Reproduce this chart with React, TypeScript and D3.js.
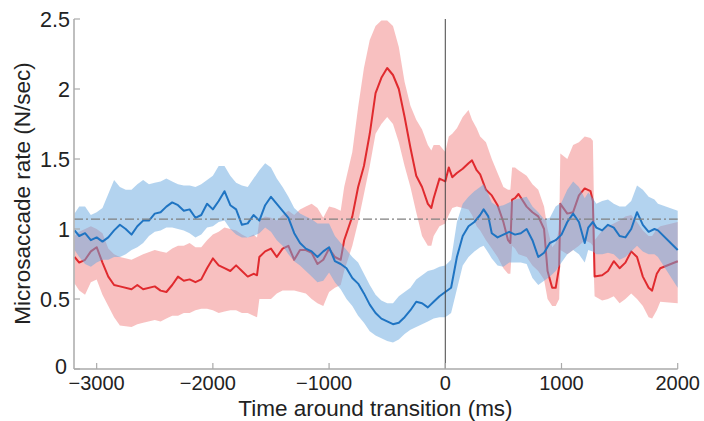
import React from "react";
import * as d3 from "d3";

// ---------- data ----------
const redTime = [-3190,-3150,-3100,-3050,-3000,-2950,-2900,-2850,-2800,-2700,-2650,-2600,-2500,-2450,-2400,-2350,-2300,-2250,-2200,-2150,-2100,-2050,-2000,-1950,-1900,-1850,-1800,-1750,-1700,-1650,-1620,-1600,-1550,-1500,-1450,-1400,-1350,-1300,-1250,-1200,-1150,-1100,-1050,-1000,-950,-900,-870,-800,-750,-700,-650,-600,-550,-500,-450,-400,-350,-300,-250,-200,-150,-120,-100,-50,0,30,60,100,150,200,230,270,300,350,400,450,500,540,560,575,600,630,700,750,800,850,880,920,950,980,990,1050,1100,1150,1200,1250,1270,1285,1350,1400,1450,1500,1550,1600,1650,1700,1750,1780,1820,1850,2000];
const redMean = [0.80,0.76,0.78,0.84,0.87,0.76,0.66,0.60,0.59,0.57,0.60,0.57,0.59,0.56,0.55,0.60,0.66,0.63,0.64,0.62,0.64,0.72,0.79,0.74,0.72,0.70,0.74,0.70,0.66,0.68,0.67,0.80,0.84,0.86,0.80,0.86,0.88,0.78,0.85,0.85,0.83,0.75,0.78,0.86,0.80,0.78,0.92,1.09,1.30,1.45,1.68,1.97,2.08,2.15,2.10,2.00,1.80,1.58,1.38,1.30,1.18,1.15,1.22,1.36,1.34,1.44,1.37,1.40,1.43,1.47,1.49,1.42,1.39,1.28,1.24,1.17,1.05,0.92,0.90,1.21,1.22,1.25,1.16,1.12,1.09,1.00,0.70,0.58,0.58,0.73,1.18,1.11,1.12,1.24,1.29,1.27,1.20,0.66,0.67,0.70,0.77,0.72,0.76,0.84,0.80,0.66,0.58,0.56,0.68,0.72,0.77];
const redHigh = [0.95,0.98,1.00,1.02,1.00,0.97,0.86,0.82,0.80,0.78,0.80,0.82,0.85,0.84,0.83,0.86,0.88,0.88,0.90,0.87,0.87,0.92,0.96,0.98,1.01,1.00,0.99,0.96,0.94,0.96,0.94,1.06,1.09,1.08,1.06,1.10,1.13,1.10,1.14,1.16,1.18,1.15,1.08,1.16,1.15,1.13,1.30,1.55,1.87,2.15,2.35,2.45,2.49,2.49,2.45,2.30,2.05,1.88,1.78,1.71,1.60,1.56,1.60,1.60,1.55,1.66,1.68,1.72,1.80,1.85,1.78,1.72,1.66,1.62,1.50,1.40,1.30,1.28,1.28,1.44,1.44,1.42,1.38,1.32,1.28,1.16,1.00,0.87,0.90,1.00,1.54,1.50,1.60,1.62,1.66,1.65,1.63,0.92,0.99,1.02,1.04,1.06,1.09,1.10,1.05,0.99,0.95,0.95,1.00,1.02,1.05];
const redLow = [0.61,0.56,0.53,0.62,0.64,0.53,0.45,0.37,0.31,0.30,0.32,0.33,0.35,0.34,0.36,0.38,0.38,0.40,0.40,0.42,0.43,0.43,0.42,0.40,0.41,0.42,0.42,0.40,0.40,0.38,0.37,0.50,0.50,0.50,0.54,0.56,0.56,0.56,0.55,0.54,0.50,0.47,0.45,0.55,0.58,0.60,0.70,0.88,1.05,1.25,1.45,1.68,1.75,1.80,1.75,1.62,1.45,1.30,1.12,0.95,0.88,0.88,0.95,1.02,1.04,1.10,1.15,1.16,1.15,1.14,1.10,1.02,0.99,0.92,0.86,0.80,0.72,0.68,0.68,0.88,0.86,0.82,0.80,0.74,0.70,0.64,0.50,0.45,0.45,0.50,0.85,0.82,0.85,0.88,0.92,0.90,0.88,0.52,0.49,0.50,0.52,0.47,0.50,0.54,0.50,0.45,0.37,0.36,0.42,0.48,0.47];

const blueTime = [-3190,-3150,-3100,-3050,-3000,-2950,-2900,-2850,-2800,-2750,-2700,-2650,-2600,-2550,-2500,-2450,-2400,-2350,-2300,-2250,-2200,-2150,-2100,-2050,-2000,-1950,-1900,-1850,-1800,-1750,-1700,-1650,-1600,-1550,-1500,-1450,-1400,-1350,-1300,-1250,-1200,-1150,-1100,-1050,-1000,-950,-900,-850,-800,-750,-700,-650,-600,-550,-500,-450,-400,-350,-300,-250,-200,-150,-100,-50,0,50,100,150,200,250,300,330,370,400,450,500,550,600,650,700,750,800,850,900,950,1000,1050,1100,1150,1200,1230,1270,1300,1350,1400,1450,1500,1550,1600,1650,1700,1750,1800,1830,2000];
const blueMean = [0.99,0.95,0.97,0.92,0.94,0.91,0.94,0.99,1.03,1.00,0.96,1.02,1.06,1.06,1.11,1.12,1.16,1.19,1.17,1.13,1.14,1.08,1.10,1.18,1.14,1.20,1.27,1.17,1.14,1.03,1.04,1.10,1.06,1.17,1.23,1.18,1.13,1.08,0.97,0.90,0.86,0.84,0.80,0.84,0.87,0.77,0.75,0.72,0.65,0.61,0.54,0.46,0.40,0.36,0.34,0.32,0.33,0.37,0.42,0.48,0.47,0.44,0.48,0.52,0.55,0.58,0.80,0.95,1.02,1.05,1.10,1.14,1.09,0.97,0.94,0.96,0.98,0.96,0.97,1.00,0.92,0.80,0.83,0.90,0.92,0.96,1.05,1.11,1.05,0.90,1.01,1.05,1.01,0.99,1.03,1.01,0.95,0.94,1.00,1.12,1.03,0.98,1.00,0.99,0.85];
const blueHigh = [1.11,1.16,1.16,1.10,1.12,1.15,1.25,1.35,1.30,1.28,1.28,1.32,1.35,1.32,1.33,1.34,1.36,1.34,1.32,1.31,1.31,1.30,1.32,1.35,1.38,1.45,1.45,1.38,1.33,1.31,1.30,1.36,1.42,1.47,1.44,1.36,1.30,1.23,1.15,1.11,1.09,1.07,1.04,1.04,1.04,0.95,0.90,0.85,0.80,0.76,0.68,0.60,0.53,0.49,0.47,0.47,0.52,0.55,0.58,0.64,0.67,0.70,0.71,0.73,0.74,0.78,1.05,1.18,1.23,1.27,1.30,1.32,1.25,1.19,1.16,1.17,1.19,1.21,1.22,1.23,1.16,1.12,1.07,1.08,1.16,1.19,1.28,1.34,1.30,1.22,1.26,1.22,1.18,1.20,1.21,1.18,1.16,1.16,1.20,1.31,1.28,1.23,1.21,1.18,1.13];
const blueLow = [0.85,0.80,0.75,0.73,0.76,0.78,0.78,0.80,0.80,0.82,0.85,0.87,0.90,0.95,0.98,0.99,1.01,1.01,1.00,0.99,0.97,0.94,0.96,1.01,1.02,1.05,1.06,1.00,0.96,0.94,0.94,0.95,0.97,1.01,0.98,0.92,0.88,0.82,0.77,0.74,0.70,0.66,0.62,0.63,0.69,0.62,0.57,0.50,0.45,0.38,0.33,0.27,0.24,0.22,0.20,0.19,0.21,0.25,0.28,0.30,0.32,0.34,0.36,0.37,0.37,0.40,0.57,0.74,0.80,0.84,0.87,0.88,0.83,0.79,0.74,0.73,0.76,0.76,0.76,0.75,0.65,0.60,0.63,0.66,0.70,0.76,0.82,0.85,0.82,0.76,0.85,0.84,0.82,0.82,0.83,0.82,0.78,0.80,0.84,0.88,0.84,0.82,0.82,0.80,0.58];

const baselineRate = 1.07;
const xTicks = [-3000, -2000, -1000, 0, 1000, 2000];
const yTicks = [0, 0.5, 1, 1.5, 2, 2.5];
const xTitle = "Time around transition (ms)";
const yTitle = "Microsaccade rate (N/sec)";

// ---------- drawing ----------
const W = 704;
const H = 421;
const FONT = "'Liberation Sans', Arial, Helvetica, sans-serif";

export default function App() {
  const x = d3.scaleLinear().domain([-3195, 2000]).range([74, 677.7]);
  const y = d3.scaleLinear().domain([0, 2.5]).range([369, 19]);

  const redIdx = redTime.map((_, i) => i);
  const blueIdx = blueTime.map((_, i) => i);

  const redArea = d3.area<number>()
    .x((i) => x(redTime[i]))
    .y0((i) => y(redLow[i]))
    .y1((i) => y(redHigh[i]))(redIdx) || "";
  const blueArea = d3.area<number>()
    .x((i) => x(blueTime[i]))
    .y0((i) => y(blueLow[i]))
    .y1((i) => y(blueHigh[i]))(blueIdx) || "";
  const redLine = d3.line<number>()
    .x((i) => x(redTime[i]))
    .y((i) => y(redMean[i]))(redIdx) || "";
  const blueLine = d3.line<number>()
    .x((i) => x(blueTime[i]))
    .y((i) => y(blueMean[i]))(blueIdx) || "";

  const [x0, x1] = x.range();
  const [yb, yt] = y.range();
  const fmtX = (v: number) => (v < 0 ? "\u2212" + Math.abs(v) : String(v));
  const xLabelShift = (v: number) => (v < 0 && v > -3000 ? -5 : 0);

  return (
    <svg
      width={W}
      height={H}
      style={{ position: "absolute", left: 0, top: 0, background: "#fff" }}
      fontFamily={FONT}
    >
      <path d={redArea} fill="rgb(241,129,129)" fillOpacity={0.5} stroke="none" />
      <path d={redLine} fill="none" stroke="#e02a2e" strokeWidth={2} strokeLinejoin="round" />
      <path d={blueArea} fill="rgb(103,167,223)" fillOpacity={0.5} stroke="none" />
      <path d={blueLine} fill="none" stroke="#1f74c2" strokeWidth={2} strokeLinejoin="round" />

      {/* baseline dash-dot */}
      <line
        x1={x0}
        x2={x1}
        y1={y(baselineRate)}
        y2={y(baselineRate)}
        stroke="#808080"
        strokeWidth={1.2}
        strokeDasharray="9,3,2,3"
      />
      {/* transition marker */}
      <line x1={x(0)} x2={x(0)} y1={yb} y2={yt} stroke="#444" strokeWidth={1} />

      {/* axes */}
      <line x1={x0} x2={x0} y1={yb} y2={yt} stroke="#aaa" strokeWidth={1.5} />
      <line x1={x0} x2={x1} y1={yb} y2={yb} stroke="#aaa" strokeWidth={1.5} />
      {yTicks.map((t) => (
        <g key={"y" + t}>
          <line x1={x0} x2={x0 + 6} y1={y(t)} y2={y(t)} stroke="#aaa" strokeWidth={1.2} />
          <text
            x={x0 - (t === 0 ? 7 : 4)}
            y={y(t) - (t === 0 ? 3 : 0)}
            dy="0.36em"
            textAnchor="end"
            fontSize={21.5}
            fill="#222"
          >
            {String(t)}
          </text>
        </g>
      ))}
      {xTicks.map((t) => (
        <g key={"x" + t}>
          <line x1={x(t)} x2={x(t)} y1={yb} y2={yb - 6} stroke="#aaa" strokeWidth={1.2} />
          <text
            x={x(t) + xLabelShift(t)}
            y={390}
            textAnchor="middle"
            fontSize={20}
            fill="#222"
          >
            {fmtX(t)}
          </text>
        </g>
      ))}
      <text x={375.5} y={416} textAnchor="middle" fontSize={22.5} fill="#222">
        {xTitle}
      </text>
      <text
        transform={`translate(30,193.5) rotate(-90)`}
        textAnchor="middle"
        fontSize={22.5}
        fill="#222"
      >
        {yTitle}
      </text>
    </svg>
  );
}
